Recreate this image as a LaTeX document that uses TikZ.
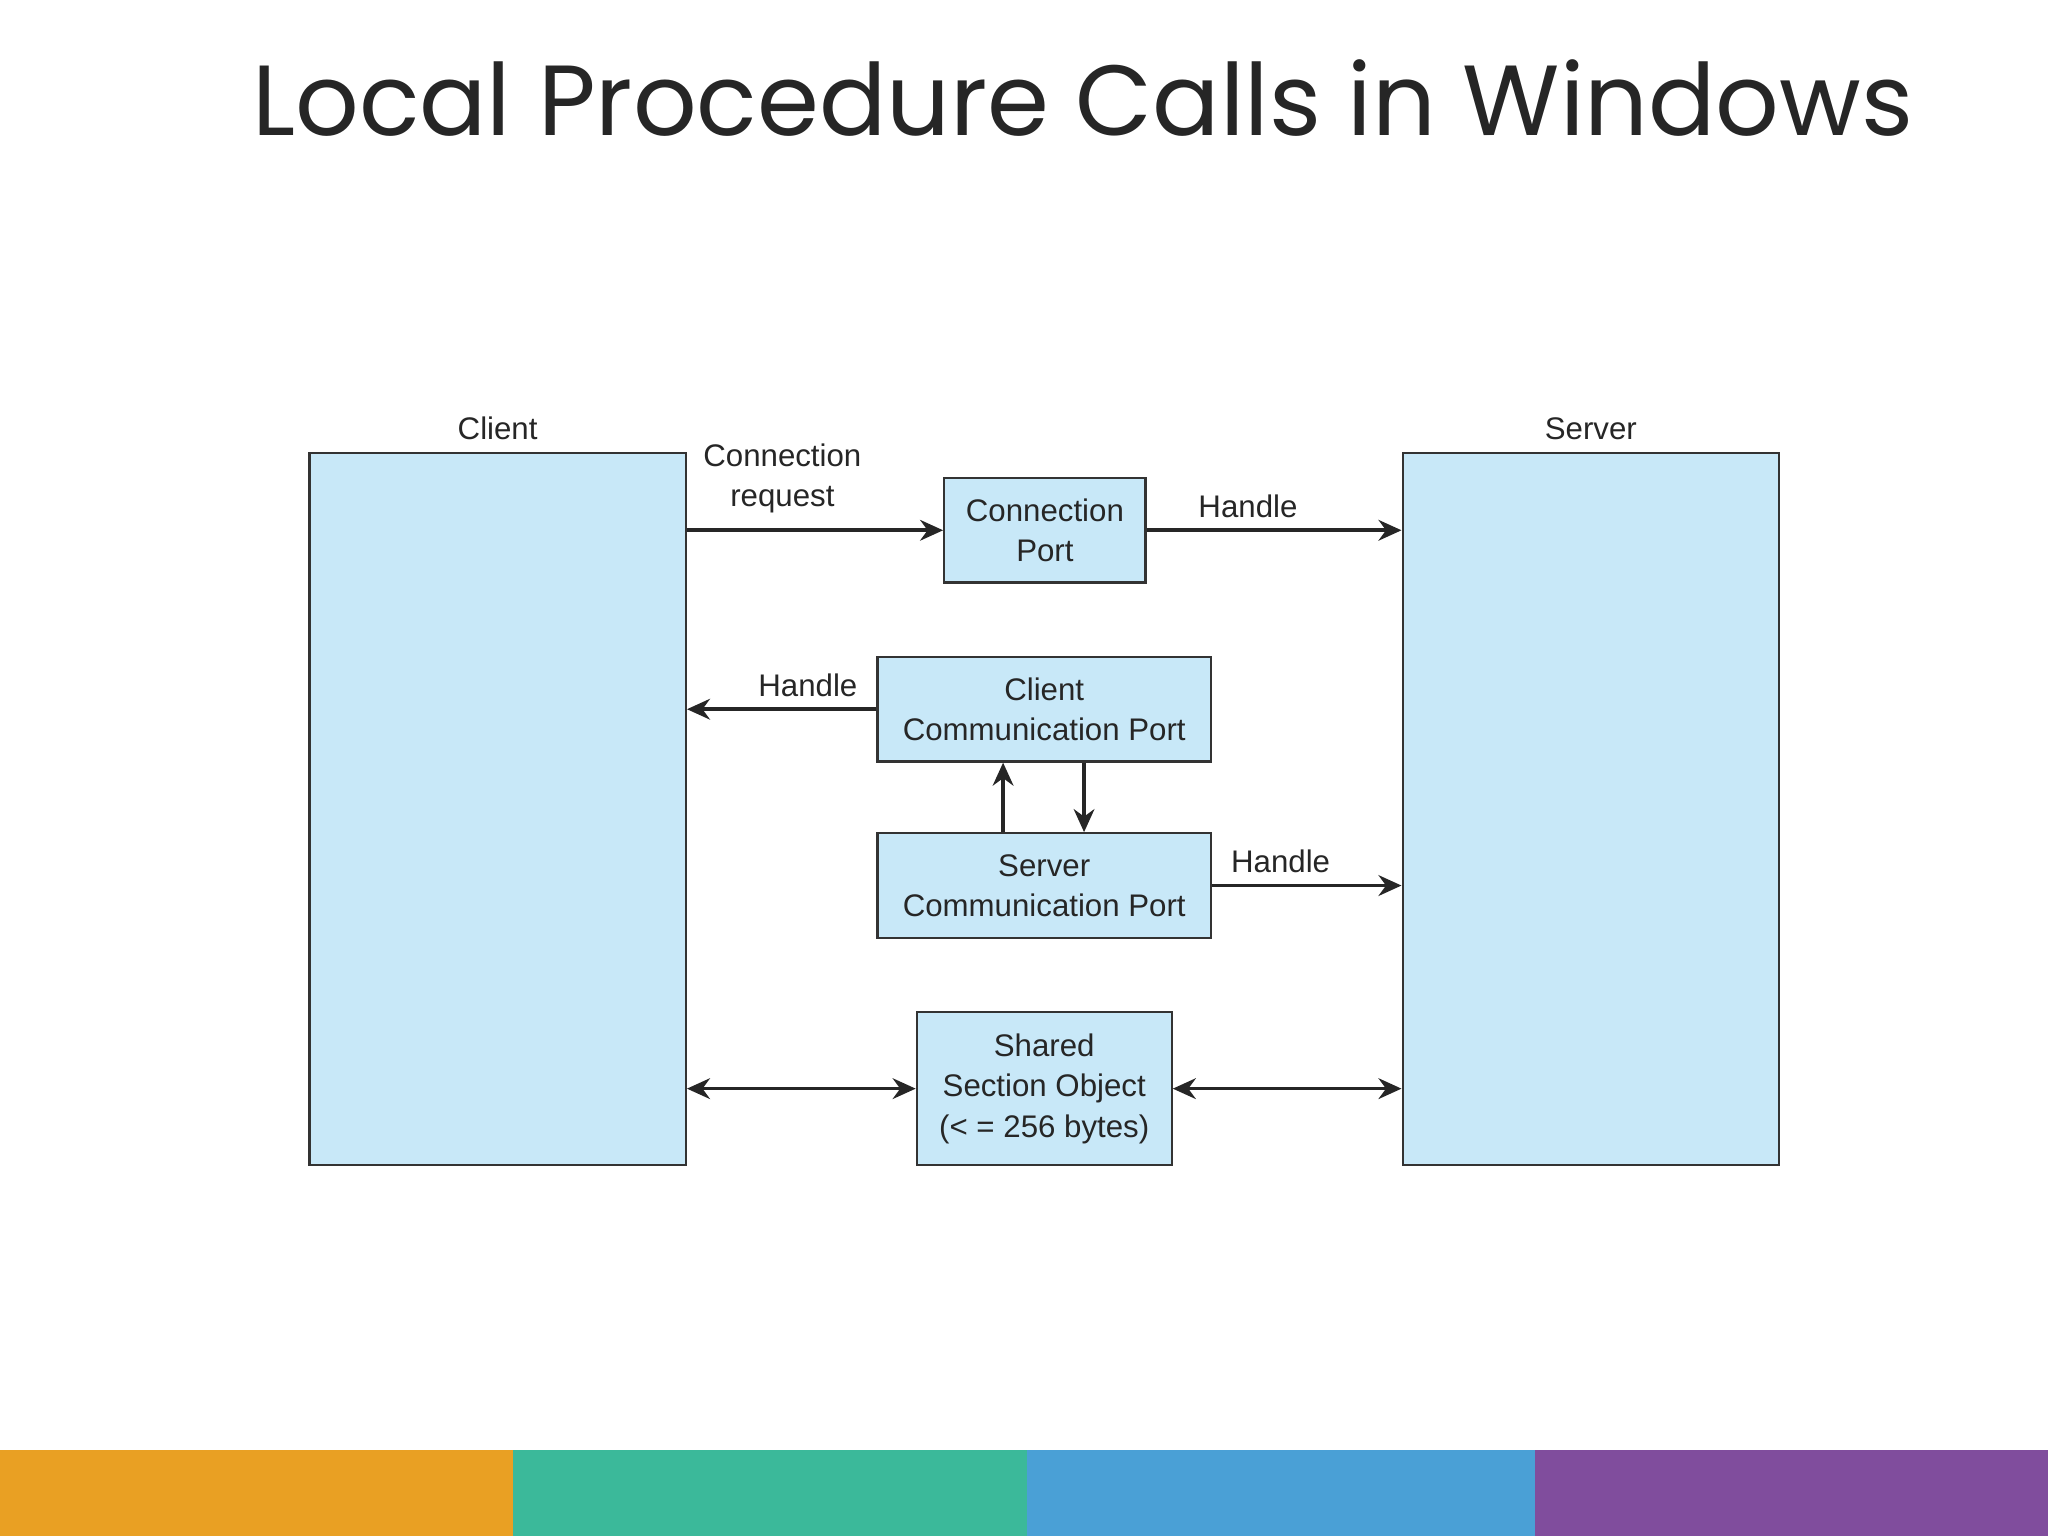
\documentclass[tikz,border=0pt]{standalone}
\usepackage{fontspec}
\setmainfont{Liberation Sans}
\newfontfamily\titlefont{Poppins}
\usetikzlibrary{arrows.meta}
\definecolor{boxblue}{HTML}{C8E8F8}
\definecolor{ora}{HTML}{E9A023}
\definecolor{tea}{HTML}{3BB99A}
\definecolor{blu}{HTML}{4AA0D6}
\definecolor{pur}{HTML}{804D9D}
\begin{document}
\begin{tikzpicture}[x=0.01cm,y=-0.01cm,
  box/.style={draw=black!80,fill=boxblue,line width=0.5pt,inner sep=0pt},
  lbl/.style={font=\fontsize{6.8}{8.8}\selectfont,text=black!85,align=center},
  arr/.style={line width=0.8pt,-{Stealth[length=5pt,width=4.5pt]},black!85},
  darr/.style={line width=0.8pt,{Stealth[length=5pt,width=4.5pt]}-{Stealth[length=5pt,width=4.5pt]},black!85}]
\useasboundingbox (0,0) rectangle (1568,1176);
\fill[white] (0,0) rectangle (1568,1176);
\node[anchor=center,font=\titlefont\fontsize{21.7}{26}\selectfont,text=black!85] (title) at (829,75) {Local Procedure Calls in Windows};
\fill[ora] (0,1110) rectangle (393,1176);
\fill[tea] (393,1110) rectangle (786,1176);
\fill[blu] (786,1110) rectangle (1175,1176);
\fill[pur] (1175,1110) rectangle (1568,1176);
\node[box,minimum width=2.88cm,minimum height=5.45cm] (client) at (381,619.5) {};
\node[box,minimum width=2.88cm,minimum height=5.45cm] (server) at (1218,619.5) {};
\node[lbl,anchor=south] (cl) at (381,349) {Client};
\node[lbl,anchor=south] (sl) at (1218,349) {Server};
\node[box,lbl,minimum width=1.54cm,minimum height=0.8cm] (cp) at (800,406) {Connection\\Port};
\node[box,lbl,minimum width=2.55cm,minimum height=0.8cm] (ccp) at (799.5,543) {Client\\Communication Port};
\node[box,lbl,minimum width=2.55cm,minimum height=0.8cm] (scp) at (799.5,678) {Server\\Communication Port};
\node[box,lbl,minimum width=1.95cm,minimum height=1.17cm] (sso) at (799.5,833.5) {Shared\\Section Object\\(< = 256 bytes)};
\draw[arr] (client.east |- cp.west) -- node[lbl,above=0pt,xshift=-2.5mm] {Connection\\request} (cp.west);
\draw[arr] (cp.east) -- node[lbl,above=-1pt,xshift=-2mm] {Handle} (server.west |- cp.east);
\draw[arr] (ccp.west) -- node[lbl,above=-1pt,xshift=2mm] {Handle} (client.east |- ccp.west);
\draw[arr] (scp.north -| 768,0) -- (ccp.south -| 768,0);
\draw[arr] (ccp.south -| 830,0) -- (scp.north -| 830,0);
\draw[arr] (scp.east) -- node[lbl,above=-1pt,xshift=-2mm] {Handle} (server.west |- scp.east);
\draw[darr] (client.east |- sso.west) -- (sso.west);
\draw[darr] (sso.east) -- (server.west |- sso.east);
\end{tikzpicture}
\end{document}
